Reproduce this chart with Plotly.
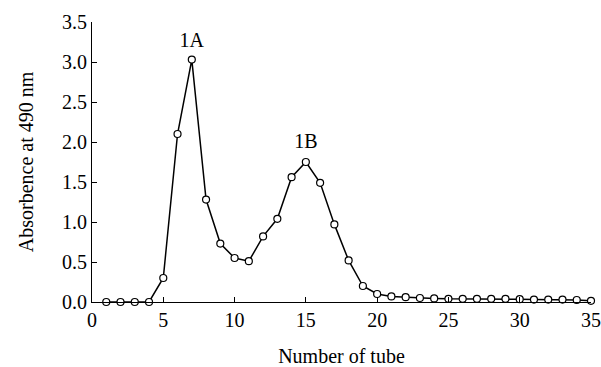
import plotly.graph_objects as go

tube = list(range(1, 36))
absorbance = [0, 0, 0, 0, 0.30, 2.10, 3.03, 1.28, 0.73, 0.55, 0.51, 0.82, 1.04, 1.56, 1.75,
              1.49, 0.97, 0.52, 0.20, 0.10, 0.07, 0.06, 0.05, 0.045, 0.04, 0.04, 0.04, 0.04,
              0.04, 0.035, 0.03, 0.03, 0.03, 0.025, 0.015]
peak_labels = ["1A", "1B"]
peak_x = [7, 15]
peak_y = [3.25, 1.99]

font = "Liberation Serif"

fig = go.Figure()
fig.add_trace(go.Scatter(
    x=tube, y=absorbance, mode="lines+markers",
    line=dict(color="black", width=1.5),
    marker=dict(symbol="circle", size=7, color="white", line=dict(color="black", width=1.2)),
    cliponaxis=False, showlegend=False,
))
fig.add_trace(go.Scatter(
    x=peak_x, y=peak_y, mode="text", text=peak_labels,
    textfont=dict(family=font, size=20, color="black"),
    cliponaxis=False, showlegend=False,
))

fig.update_layout(
    width=601, height=367,
    margin=dict(l=92, r=10, t=22, b=65),
    plot_bgcolor="white", paper_bgcolor="white",
    font=dict(family=font, size=20, color="black"),
)
fig.update_xaxes(
    range=[0, 35], tickvals=[0, 5, 10, 15, 20, 25, 30, 35],
    ticks="inside", ticklen=5, tickcolor="black", tickwidth=1,
    showline=True, linecolor="black", linewidth=1.2,
    showgrid=False, zeroline=False, ticklabeloverflow="allow", automargin=False,
    title=dict(text="Number of tube", font=dict(family=font, size=20), standoff=18),
    tickfont=dict(family=font, size=20),
)
fig.update_yaxes(
    range=[0, 3.5], tickvals=[0, 0.5, 1.0, 1.5, 2.0, 2.5, 3.0, 3.5],
    tickformat=".1f",
    ticks="inside", ticklen=5, tickcolor="black", tickwidth=1,
    showline=True, linecolor="black", linewidth=1.2,
    showgrid=False, zeroline=False, ticklabeloverflow="allow", automargin=False,
    title=dict(text="Absorbence at 490 nm", font=dict(family=font, size=20), standoff=22),
    tickfont=dict(family=font, size=20),
)

fig.write_html("out.html")
